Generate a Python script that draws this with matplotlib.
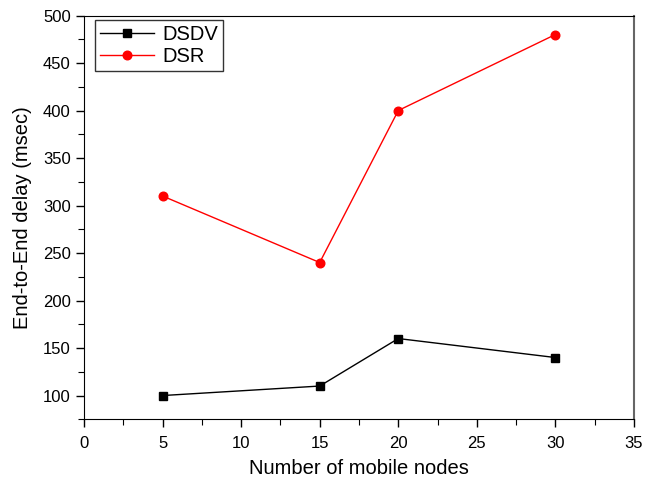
import matplotlib
matplotlib.use("Agg")
import matplotlib.pyplot as plt
from matplotlib.ticker import MultipleLocator

plt.rcParams['font.family'] = ['Liberation Sans', 'DejaVu Sans']

nodes = [5, 15, 20, 30]
dsdv = [100, 110, 160, 140]
dsr = [310, 240, 400, 480]

fig = plt.figure(figsize=(6.58, 4.82), dpi=100)
ax = fig.add_axes([84/658, 1 - 419.3/482, (634 - 84)/658, (419.3 - 15.5)/482])

ax.plot(nodes, dsdv, color='black', lw=1.0, marker='s', markersize=5.5, label='DSDV')
ax.plot(nodes, dsr, color='red', lw=1.0, marker='o', markersize=6.2, label='DSR')

ax.set_xlim(0, 35)
ax.set_ylim(75, 500)
ax.xaxis.set_major_locator(MultipleLocator(5))
ax.xaxis.set_minor_locator(MultipleLocator(2.5))
ax.yaxis.set_major_locator(MultipleLocator(50))
ax.yaxis.set_minor_locator(MultipleLocator(25))
ax.tick_params(which='both', direction='out', top=False, right=False, labelsize=12)
ax.tick_params(which='major', length=6, width=1)
ax.tick_params(which='minor', length=4, width=0.8)
ax.tick_params(axis='x', pad=6)
ax.spines['right'].set_color('#666666')
ax.spines['right'].set_linewidth(1.5)

ax.set_xlabel('Number of mobile nodes', fontsize=14.5, labelpad=6)
ax.set_ylabel('End-to-End delay (msec)', fontsize=14.5, labelpad=8)

leg = ax.legend(loc='upper left', fontsize=14.5, frameon=True, fancybox=False,
                edgecolor='black', borderpad=0.25, handlelength=2.7,
                handletextpad=0.4, labelspacing=0.15, borderaxespad=0,
                bbox_to_anchor=(0.02, 0.99))
leg.get_frame().set_linewidth(1.0)

fig.savefig('out.png', dpi=100)
